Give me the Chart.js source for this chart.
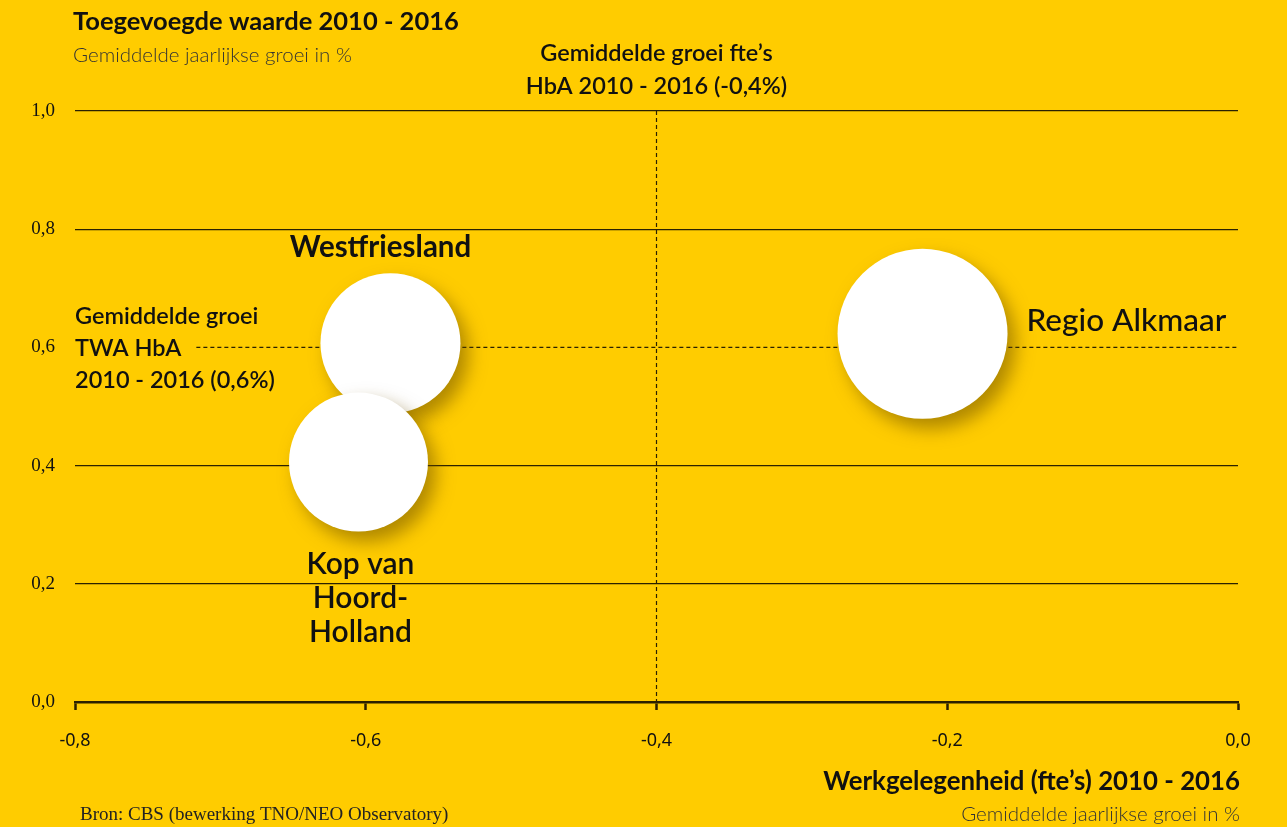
<!DOCTYPE html>
<html>
<head>
<meta charset="utf-8">
<script src="https://cdn.jsdelivr.net/npm/chart.js@4.4.0/dist/chart.umd.min.js"></script>
<style>
  html, body { margin: 0; padding: 0; background: #ffcc00; }
  #wrap { width: 1287px; height: 827px; }
</style>
</head>
<body>
<div id="wrap"><canvas id="chart" width="1287" height="827"></canvas></div>
<script>
// --- Data ---
const regions = ['Westfriesland', 'Kop van\nHoord-\nHolland', 'Regio Alkmaar'];
const jobGrowth = [-0.583, -0.605, -0.217];     // x: werkgelegenheid (fte's)
const valueGrowth = [0.607, 0.406, 0.623];      // y: toegevoegde waarde
const bubbleRadius = [70, 69.5, 85];
const labelSide = ['top', 'bottom', 'right'];

const avgJobGrowth = -0.4;   // Gemiddelde groei fte's HbA
const avgValueGrowth = 0.6;  // Gemiddelde groei TWA HbA

const xTicks = [-0.8, -0.6, -0.4, -0.2, 0.0];
const yTicks = [0.0, 0.2, 0.4, 0.6, 0.8, 1.0];

// --- Style ---
const bg = '#ffcc00';
const ink = '#111';
const lineColor = '#2b2100';
const sans = 'Lato, "Noto Sans", sans-serif';
const serif = '"Liberation Serif", "DejaVu Serif", serif';

const fmt = v => (Math.abs(v) < 1e-9 ? 0 : v).toFixed(1).replace('.', ',');

// --- Plugins ---
const background = {
  id: 'background',
  beforeDraw(chart) {
    const c = chart.ctx;
    c.save();
    c.fillStyle = bg;
    c.fillRect(0, 0, chart.width, chart.height);
    c.restore();
  }
};

const twaLines = ['Gemiddelde groei', 'TWA HbA', '2010 - 2016 (0,6%)'];
const fteLines = ['Gemiddelde groei fte\u2019s', 'HbA 2010 - 2016 (-0,4%)'];
const noteFont = '600 23.5px ' + sans;

const referenceLines = {
  id: 'referenceLines',
  beforeDatasetsDraw(chart) {
    const c = chart.ctx;
    const xs = chart.scales.x, ys = chart.scales.y;
    const area = chart.chartArea;
    c.save();
    c.strokeStyle = lineColor;
    c.lineWidth = 1.2;
    c.setLineDash([4, 3]);
    // vertical at avg fte growth
    const px = xs.getPixelForValue(avgJobGrowth);
    c.beginPath();
    c.moveTo(px, area.top);
    c.lineTo(px, area.bottom);
    c.stroke();
    // horizontal at avg TWA growth, starting after the label
    c.font = noteFont;
    const startX = area.left + c.measureText(twaLines[1]).width + 15;
    const py = ys.getPixelForValue(avgValueGrowth);
    c.beginPath();
    c.moveTo(startX, py);
    c.lineTo(area.right, py);
    c.stroke();
    c.restore();
  }
};

const bubbleShadow = {
  id: 'bubbleShadow',
  beforeDatasetDraw(chart) {
    const c = chart.ctx;
    c.save();
    c.shadowColor = 'rgba(110, 80, 0, 0.55)';
    c.shadowBlur = 18;
    c.shadowOffsetX = 8;
    c.shadowOffsetY = 10;
  },
  afterDatasetDraw(chart) {
    chart.ctx.restore();
  }
};

const textLayer = {
  id: 'textLayer',
  afterDraw(chart) {
    const c = chart.ctx;
    const area = chart.chartArea;
    const xs = chart.scales.x;
    c.save();
    c.fillStyle = ink;
    c.textBaseline = 'middle';

    // bubble labels
    const meta = chart.getDatasetMeta(0);
    meta.data.forEach((pt, i) => {
      const r = bubbleRadius[i];
      const lines = regions[i].split('\n');
      if (labelSide[i] === 'top') {
        c.font = '700 29.5px ' + sans;
        c.textAlign = 'center';
        c.fillText(lines[0], pt.x - 10, pt.y - r - 26);
      } else if (labelSide[i] === 'bottom') {
        c.font = '600 30px ' + sans;
        c.textAlign = 'center';
        lines.forEach((l, k) => c.fillText(l, pt.x + 2, pt.y + r + 33 + k * 34));
      } else {
        c.font = '500 31.5px ' + sans;
        c.textAlign = 'left';
        c.fillText(lines[0], pt.x + r + 19, pt.y - 13);
      }
    });

    // axis titles
    c.textAlign = 'left';
    c.font = '700 25.5px ' + sans;
    c.fillText('Toegevoegde waarde 2010 - 2016', 73, 22);
    c.font = '300 20.5px ' + sans;
    c.fillStyle = '#333';
    c.fillText('Gemiddelde jaarlijkse groei in %', 73, 55);

    c.fillStyle = ink;
    c.textAlign = 'right';
    c.font = '700 25.8px ' + sans;
    c.fillText('Werkgelegenheid (fte\u2019s) 2010 - 2016', area.right + 2, 782);
    c.font = '300 20.5px ' + sans;
    c.fillStyle = '#333';
    c.fillText('Gemiddelde jaarlijkse groei in %', area.right + 2, 814);

    // reference line annotations
    c.fillStyle = ink;
    c.textAlign = 'center';
    c.font = noteFont;
    const px = xs.getPixelForValue(avgJobGrowth);
    c.fillText(fteLines[0], px, 53);
    c.fillText(fteLines[1], px, 86);

    c.textAlign = 'left';
    c.font = noteFont;
    twaLines.forEach((l, k) => c.fillText(l, area.left, 316 + k * 32));

    // source
    c.font = '19px ' + serif;
    c.fillStyle = '#222';
    c.fillText('Bron: CBS (bewerking TNO/NEO Observatory)', 80, 815);
    c.restore();
  }
};

// --- Chart ---
new Chart(document.getElementById('chart'), {
  type: 'bubble',
  data: {
    datasets: [{
      data: regions.map((name, i) => ({ x: jobGrowth[i], y: valueGrowth[i], r: bubbleRadius[i] })),
      backgroundColor: '#ffffff',
      borderWidth: 0,
      hoverRadius: 0
    }]
  },
  options: {
    responsive: false,
    animation: false,
    events: [],
    layout: { autoPadding: false, padding: { top: 111, right: 49, left: 0, bottom: 0 } },
    plugins: { legend: { display: false }, tooltip: { enabled: false } },
    scales: {
      x: {
        type: 'linear',
        min: xTicks[0],
        max: xTicks[xTicks.length - 1],
        afterBuildTicks(scale) { scale.ticks = xTicks.map(v => ({ value: v })); },
        afterFit(scale) {
          scale.height = 125;
          scale.paddingLeft = 0;
          scale.paddingRight = 0;
        },
        border: { display: true, color: lineColor, width: 2.5 },
        grid: { drawOnChartArea: false, drawTicks: true, tickLength: 8, tickColor: lineColor, tickWidth: 2.5 },
        ticks: {
          padding: 20,
          color: ink,
          callback: v => fmt(v),
          font: { family: '"Noto Sans", "Open Sans", sans-serif', size: 18 }
        }
      },
      y: {
        type: 'linear',
        min: yTicks[0],
        max: yTicks[yTicks.length - 1],
        afterBuildTicks(scale) { scale.ticks = yTicks.map(v => ({ value: v })); },
        afterFit(scale) {
          scale.width = 75;
          scale.paddingTop = 0;
          scale.paddingBottom = 0;
        },
        border: { display: false },
        grid: {
          drawTicks: false,
          lineWidth: 1.3,
          color: ctx => {
            const v = ctx.tick ? ctx.tick.value : 0;
            return (Math.abs(v - avgValueGrowth) < 1e-6 || Math.abs(v) < 1e-6) ? 'rgba(0,0,0,0)' : lineColor;
          }
        },
        ticks: {
          padding: 20,
          color: ink,
          callback: v => fmt(v),
          font: { family: serif, size: 19 }
        }
      }
    }
  },
  plugins: [background, referenceLines, bubbleShadow, textLayer]
});
</script>
</body>
</html>
